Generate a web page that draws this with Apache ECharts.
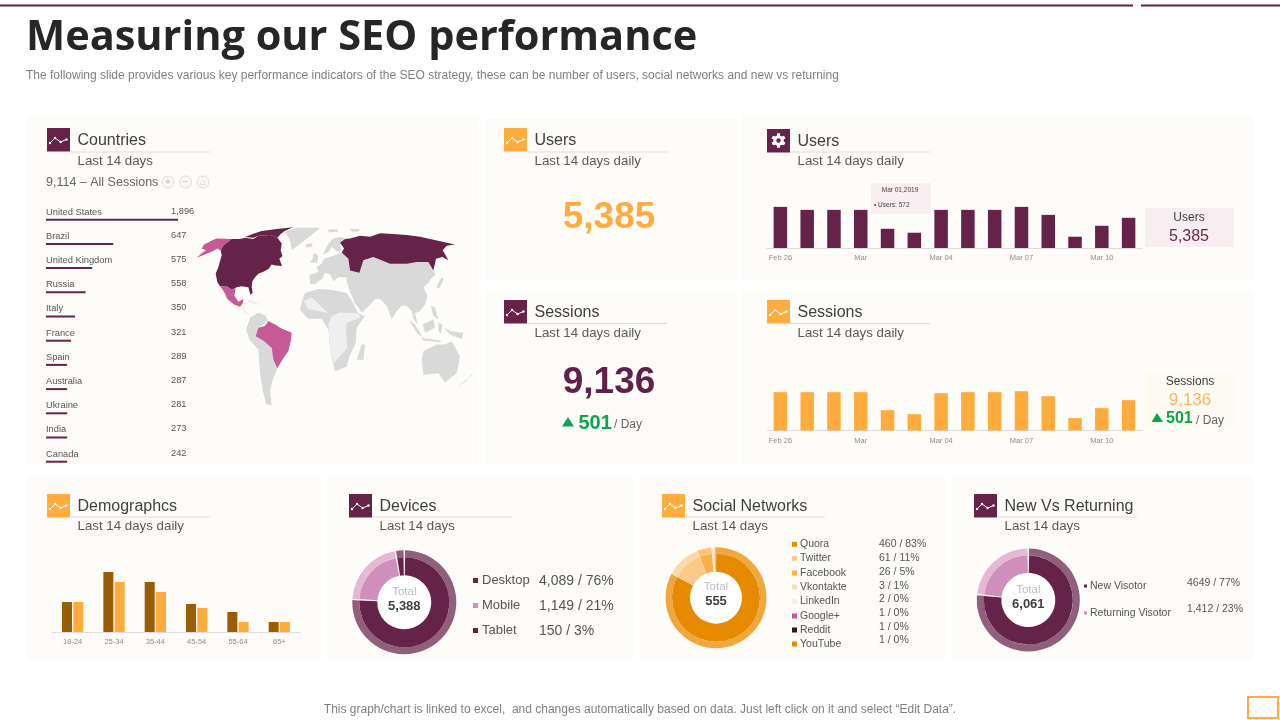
<!DOCTYPE html>
<html>
<head>
<meta charset="utf-8">
<title>Measuring our SEO performance</title>
<script src="https://cdn.jsdelivr.net/npm/echarts@6/dist/echarts.min.js"></script>
<style>
  html, body { margin: 0; padding: 0; background: #fff; }
  #chart { width: 1280px; height: 720px; }
</style>
</head>
<body>
<div id="chart"></div>
<script>
// countries panel
const countryNames = ["United States", "Brazil", "United Kingdom", "Russia", "Italy", "France", "Spain", "Australia", "Ukraine", "India", "Canada"];
const countryLabels = ["1,896", "647", "575", "558", "350", "321", "289", "287", "281", "273", "242"];
// bar lengths as drawn in the slide, % of the longest one
const countryBars = [100, 51, 35, 30, 22, 19, 16, 16, 16, 16, 16];

// 14 day bars
const dayLabels = ["Feb 26", "Feb 27", "Feb 28", "Mar", "Mar 02", "Mar 03", "Mar 04", "Mar 05", "Mar 06", "Mar 07", "Mar 08", "Mar 09", "Mar 10", "Mar 11"];
const usersDaily = [617, 572, 572, 572, 288, 229, 572, 572, 572, 617, 497, 169, 333, 453];
const sessionsDaily = [782, 782, 782, 782, 415, 333, 762, 782, 782, 802, 700, 252, 456, 619];

// demographics
const ageGroups = ["18-24", "25-34", "35-44", "45-54", "55-64", "65+"];
const ageDark = [15, 30, 25, 14, 10, 5];
const ageLight = [15, 25, 20, 12, 5, 5];

// donuts
const deviceNames = ["Desktop", "Mobile", "Tablet"];
const deviceValues = [4089, 1149, 150];
const deviceLabels = ["4,089 / 76%", "1,149 / 21%", "150 / 3%"];
const socialNames = ["Quora", "Twitter", "Facebook", "Vkontakte", "LinkedIn", "Google+", "Reddit", "YouTube"];
const socialValues = [460, 61, 26, 3, 2, 1, 1, 1];
const socialLabels = ["460 / 83%", "61 / 11%", "26 / 5%", "3 / 1%", "2 / 0%", "1 / 0%", "1 / 0%", "1 / 0%"];
const visitorNames = ["New Visotor", "Returning Visotor"];
const visitorValues = [4649, 1412];
const visitorLabels = ["4649 / 77%", "1,412 / 23%"];

// colours
const PURPLE = "#66234A";
const PURPLE_OUT = "#8F5F7B";
const PINK = "#D08FBB";
const PINK_OUT = "#E3B9D4";
const MAP_PINK = "#C65A96";
const MAP_GREY = "#D9D9D9";
const MAP_PALE = "#EDEFF1";
const ORANGE = "#FDAC3D";
const BROWN = "#9A5D04";
const PANEL = "#FEFCF9";
const GREEN = "#0DA54C";
const deviceInner = [PURPLE, PINK, PURPLE];
const deviceOuter = [PURPLE_OUT, PINK_OUT, PURPLE_OUT];
const socialInner = ["#E68A00", "#FBC98A", "#FDB04A", "#FBDCAE", "#F7EFE0", "#C0589A", "#33122B", "#E68A00"];
const socialOuter = ["#EFA83F", "#FDD9A9", "#FDC273", "#FCE6C6", "#F9F3E8", "#D186B5", "#6A4A62", "#EFA83F"];
const FONT = '"Liberation Sans", Arial, sans-serif';

// rough world outline, x / y in map units, y pointing down
const mapShapes = [
  { name: "Alaska", color: MAP_PINK, rings: [[[20,127],[38,112],[48,105],[35,100],[42,88],[62,78],[80,70],[125,72],[108,86],[100,92],[92,106],[82,100],[68,108],[48,116]]] },
  { name: "United States", color: PURPLE, rings: [
    [[125,72],[150,72],[165,68],[190,72],[205,62],[240,60],[262,68],[275,85],[272,105],[277,122],[268,130],[276,152],[256,150],[245,147],[236,160],[222,168],[205,175],[195,185],[187,197],[185,215],[188,232],[181,237],[175,215],[155,212],[140,215],[125,222],[112,213],[90,212],[82,200],[77,175],[85,155],[95,120],[92,106],[100,92]],
    [[195,105],[215,95],[225,100],[232,115],[230,130],[218,135],[205,125]]
  ] },
  { name: "Arctic", color: PURPLE, rings: [[[165,66],[190,56],[215,48],[260,42],[310,37],[285,47],[272,57],[262,68],[240,60],[205,62],[190,68]]] },
  { name: "Mexico", color: MAP_PINK, rings: [[[90,212],[112,213],[125,222],[137,218],[133,240],[145,258],[160,250],[158,262],[150,273],[132,266],[112,250],[102,228]]] },
  { name: "Central", color: "#EDEDED", rings: [[[150,273],[165,285],[180,298],[165,292]], [[165,250],[195,258],[212,268],[185,262]]] },
  { name: "South America", color: MAP_GREY, rings: [[[168,340],[180,305],[205,290],[225,298],[235,315],[205,335],[197,360],[222,375],[245,395],[250,430],[262,455],[248,490],[240,520],[245,565],[228,562],[218,520],[210,470],[205,400],[178,370]]] },
  { name: "Brazil", color: MAP_PINK, rings: [[[197,360],[205,335],[225,330],[235,315],[255,325],[270,335],[305,350],[302,375],[295,405],[280,425],[262,455],[250,430],[245,395],[222,375]]] },
  { name: "Greenland", color: MAP_GREY, rings: [[[285,50],[320,38],[390,38],[362,62],[335,82],[305,105],[298,70]]] },
  { name: "Iceland", color: MAP_GREY, rings: [[[345,88],[365,85],[368,95],[350,97]]] },
  { name: "Britain", color: MAP_GREY, rings: [[[372,112],[385,122],[382,142],[360,142],[368,128]]] },
  { name: "Scandinavia", color: MAP_GREY, rings: [[[398,118],[415,85],[430,70],[455,65],[465,72],[450,80],[455,105],[440,108],[425,95],[415,112]]] },
  { name: "Arctic Islands", color: MAP_GREY, rings: [[[410,45],[440,42],[445,50],[420,52]], [[480,42],[510,42],[505,50],[485,50]]] },
  { name: "Eurasia", color: MAP_GREY, rings: [[[360,205],[358,178],[385,170],[380,155],[395,145],[402,130],[420,125],[455,112],[475,130],[480,165],[505,170],[520,135],[550,125],[600,145],[680,140],[715,140],[730,165],[737,178],[722,190],[715,202],[700,215],[712,240],[706,265],[690,285],[675,292],[683,325],[672,312],[665,285],[650,270],[635,270],[620,285],[605,310],[590,270],[570,250],[555,250],[532,275],[515,290],[495,262],[480,228],[470,197],[470,185],[445,185],[430,197],[420,176],[405,172],[395,190],[375,205]]] },
  { name: "Russia", color: PURPLE, rings: [[[450,82],[465,72],[480,70],[510,62],[540,65],[570,55],[610,57],[650,60],[690,65],[720,72],[795,88],[770,92],[758,105],[775,135],[757,125],[738,130],[730,165],[715,140],[680,140],[650,145],[600,145],[550,125],[520,135],[508,172],[480,165],[475,130],[455,112],[462,100]]] },
  { name: "Africa", color: MAP_GREY, rings: [[[330,282],[338,250],[345,232],[385,220],[425,222],[470,232],[485,255],[505,292],[525,300],[500,335],[497,380],[478,420],[470,450],[435,465],[420,400],[415,340],[395,308],[355,308]]] },
  { name: "Sahel", color: MAP_PALE, rings: [[[340,255],[365,245],[415,292],[385,285],[355,280]]] },
  { name: "Congo", color: MAP_PALE, rings: [[[415,325],[425,300],[450,290],[505,292],[512,305],[470,320],[468,350],[472,395],[445,425],[432,440],[420,400]]] },
  { name: "Madagascar", color: MAP_GREY, rings: [[[500,430],[515,385],[525,385],[520,430]]] },
  { name: "Japan", color: MAP_GREY, rings: [[[738,215],[755,185],[762,190],[748,218]]] },
  { name: "Philippines", color: MAP_GREY, rings: [[[722,270],[735,275],[745,312],[730,300]]] },
  { name: "Sumatra", color: MAP_GREY, rings: [[[655,310],[675,325],[700,365],[682,352]]] },
  { name: "Java", color: MAP_GREY, rings: [[[695,365],[750,372],[752,378],[700,373]]] },
  { name: "Borneo", color: MAP_GREY, rings: [[[698,325],[730,310],[735,335],[705,350]]] },
  { name: "Sulawesi", color: MAP_GREY, rings: [[[745,320],[758,325],[752,352],[745,345]]] },
  { name: "New Guinea", color: MAP_GREY, rings: [[[762,335],[785,345],[820,350],[815,368],[780,355]]] },
  { name: "Australia", color: MAP_GREY, rings: [[[695,430],[700,405],[740,385],[765,385],[785,375],[810,420],[800,470],[765,497],[745,470],[700,475]]] },
  { name: "New Zealand", color: "#E4E4E4", rings: [[[798,510],[845,478],[848,468],[828,495]]] }
];

const worldGeo = {
  type: "FeatureCollection",
  features: mapShapes.map(s => ({
    type: "Feature",
    properties: { name: s.name },
    geometry: { type: "Polygon", coordinates: s.rings.map(r => r.map(p => [p[0], -p[1]])) }
  }))
};
echarts.registerMap("world-lite", worldGeo);

// helpers for the graphic layer
function txt(x, y, text, size, color, opts) {
  opts = opts || {};
  return {
    type: "text", x: x, y: y, z: 20, silent: true,
    style: {
      text: text, fontSize: size, fill: color,
      fontFamily: opts.family || FONT, fontWeight: opts.weight || "normal",
      align: opts.align || "left", verticalAlign: "middle"
    }
  };
}
function box(x, y, w, h, fill, z) {
  return { type: "rect", z: z || 1, silent: true, shape: { x: x, y: y, width: w, height: h }, style: { fill: fill } };
}
function chartIcon(x, y) {
  const pts = [[x + 3, y + 15], [x + 8, y + 10], [x + 13.6, y + 14], [x + 19.5, y + 11.5]];
  const els = [{
    type: "polyline", z: 21, silent: true,
    shape: { points: pts },
    style: { stroke: "#fff", lineWidth: 1, fill: null }
  }];
  pts.forEach(p => els.push({ type: "circle", z: 21, silent: true, shape: { cx: p[0], cy: p[1], r: 1.2 }, style: { fill: "#fff" } }));
  return els;
}
function gearIcon(cx, cy) {
  const parts = [];
  for (let i = 0; i < 6; i++) {
    parts.push({
      type: "rect", z: 21, silent: true, x: cx, y: cy, rotation: i * Math.PI / 3,
      shape: { x: -1.5, y: -7, width: 3, height: 14 }, style: { fill: "#fff" }
    });
  }
  parts.push({ type: "circle", z: 22, silent: true, shape: { cx: cx, cy: cy, r: 5.2 }, style: { fill: "#fff" } });
  parts.push({ type: "circle", z: 23, silent: true, shape: { cx: cx, cy: cy, r: 2.2 }, style: { fill: PURPLE } });
  return parts;
}
function header(ix, iy, color, title, sub, lineY, gear) {
  const tx = ix + 30.5;
  const els = [
    box(ix, iy, 23, 23.5, color, 20),
    txt(tx, iy + 12.5, title, 16, "#404040"),
    txt(tx, lineY + 10, sub, 13.3, "#595959"),
    box(ix + 23, lineY, 140, 1, "#DDDDDD", 20)
  ];
  return els.concat(gear ? gearIcon(ix + 11.5, iy + 11.5) : chartIcon(ix, iy));
}
function centerText(cx, cy, total) {
  return [
    { type: "circle", z: 1, silent: true, shape: { cx: cx, cy: cy, r: 28 }, style: { fill: "#fff" } },
    txt(cx, cy - 10.5, "Total", 11.5, "#BDBDBD", { align: "center" }),
    txt(cx, cy + 4, total, 13, "#404040", { align: "center", weight: "bold" })
  ];
}

let g = [];
// slide furniture
g.push(box(0, 4.5, 1133, 2, "#5B2245"), box(1141, 4.5, 139, 2, "#5B2245"));
g.push(txt(26, 38.5, "Measuring our SEO performance", 41.5, "#262626", { weight: "bold", family: '"Open Sans", sans-serif' }));
g.push(txt(26, 75.5, "The following slide provides various key performance indicators of the SEO strategy, these can be number of users, social networks and new vs returning", 12, "#7F7F7F"));
g.push(txt(640, 710, "This graph/chart is linked to excel,  and changes automatically based on data. Just left click on it and select “Edit Data”.", 12, "#7F7F7F", { align: "center" }));
g.push({ type: "rect", z: 20, silent: true, shape: { x: 1248, y: 697, width: 30, height: 21 }, style: { fill: null, stroke: ORANGE, lineWidth: 2 } });

// panels
g.push(box(27, 116, 451, 349, PANEL), box(485, 118, 251, 163, PANEL), box(485, 291, 251, 174, PANEL));
g.push(box(741, 116, 512, 165, PANEL), box(741, 291, 512, 174, PANEL));
g.push(box(27, 476, 294, 184, PANEL), box(328, 476, 306, 184, PANEL), box(640, 476, 306, 184, PANEL), box(952, 476, 301, 184, PANEL));

// headers
g = g.concat(header(47, 128, PURPLE, "Countries", "Last 14 days", 151.5));
g = g.concat(header(504, 128, ORANGE, "Users", "Last 14 days daily", 151.5));
g = g.concat(header(504, 300, PURPLE, "Sessions", "Last 14 days daily", 323));
g = g.concat(header(767, 129, PURPLE, "Users", "Last 14 days daily", 151.5, true));
g = g.concat(header(767, 300, ORANGE, "Sessions", "Last 14 days daily", 323));
g = g.concat(header(47, 494, ORANGE, "Demographcs", "Last 14 days daily", 516.5));
g = g.concat(header(349, 494, PURPLE, "Devices", "Last 14 days", 516.5));
g = g.concat(header(662, 494, ORANGE, "Social Networks", "Last 14 days", 516.5));
g = g.concat(header(974, 494, PURPLE, "New Vs Returning", "Last 14 days", 516.5));

// countries list
g.push(txt(46, 183, "9,114 – All Sessions", 12.5, "#666666"));
["+", "−", "⌂"].forEach((s, i) => {
  const cx = 168 + i * 17.5;
  g.push({ type: "circle", z: 20, silent: true, shape: { cx: cx, cy: 182, r: 6 }, style: { fill: "#FAF8F5", stroke: "#DDDDDD", lineWidth: 1 } });
  g.push(txt(cx, 182, s, 10, "#CCCCCC", { align: "center", weight: "bold" }));
});
countryNames.forEach((name, i) => {
  g.push(txt(46, 212 + i * 24.2, name, 9.3, "#555555"));
  g.push(txt(171, 211 + i * 24.2, countryLabels[i], 9.3, "#555555"));
});

// big numbers
g.push(txt(609, 218, "5,385", 37, ORANGE, { align: "center", weight: "bold" }));
g.push(txt(609, 383, "9,136", 37, "#5F2149", { align: "center", weight: "bold" }));
g.push({ type: "polygon", z: 20, silent: true, shape: { points: [[562, 426.5], [574, 426.5], [568, 417]] }, style: { fill: GREEN } });
g.push(txt(578.5, 423, "501", 20, GREEN, { weight: "bold" }));
g.push(txt(614, 424.5, "/ Day", 12, "#666666"));

// users side boxes and the tooltip
g.push(box(1145, 208, 89, 39, "#F8EEF2", 3));
g.push(txt(1189, 217.5, "Users", 12, "#404040", { align: "center" }));
g.push(txt(1189, 237, "5,385", 16, "#6B2C4B", { align: "center" }));
g.push(box(871, 183, 60, 31, "#F9EEF1", 10));
g.push(txt(900, 190, "Mar 01,2019", 6.5, "#444444", { align: "center" }));
g.push(txt(874, 205, "• Users: 572", 6.5, "#444444"));

g.push(box(1146, 372, 88, 56, "#FDFAF1", 3));
g.push(txt(1190, 381.5, "Sessions", 12, "#404040", { align: "center" }));
g.push(txt(1190, 400, "9,136", 17, "#FBB660", { align: "center" }));
g.push({ type: "polygon", z: 20, silent: true, shape: { points: [[1151.5, 422], [1163, 422], [1157, 413]] }, style: { fill: GREEN } });
g.push(txt(1166, 419, "501", 16, GREEN, { weight: "bold" }));
g.push(txt(1196, 420.5, "/ Day", 12, "#666666"));

// donut centres
g = g.concat(centerText(404.3, 602.3, "5,388"));
g = g.concat(centerText(716, 597.7, "555"));
g = g.concat(centerText(1028.3, 600, "6,061"));

// donut legends
deviceNames.forEach((name, i) => {
  const y = 580.5 + i * 25;
  g.push(box(473, y - 2.5, 5, 5, deviceInner[i], 20));
  g.push(txt(482, y, name, 13, "#555555"));
  g.push(txt(539, y + 0.5, deviceLabels[i], 14, "#555555"));
});
const socialRowY = [544.3, 558.3, 573, 587, 601.3, 616, 630, 644];
const socialValueY = [544, 558, 572, 585.7, 599, 613, 627, 640];
socialNames.forEach((name, i) => {
  g.push(box(792, socialRowY[i] - 2.5, 5, 5, socialInner[i], 20));
  g.push(txt(800, socialRowY[i], name, 10.5, "#555555"));
  g.push(txt(879, socialValueY[i], socialLabels[i], 10.5, "#555555"));
});
const visitorRowY = [586, 613];
const visitorValueY = [583, 609];
visitorNames.forEach((name, i) => {
  g.push(box(1084, visitorRowY[i] - 1.5, 3, 3, i ? PINK : PURPLE, 20));
  g.push(txt(1090, visitorRowY[i], name, 10.5, "#555555"));
  g.push(txt(1187, visitorValueY[i], visitorLabels[i], 10.5, "#555555"));
});

function categoryAxis(gridIndex, data, interval, size) {
  return {
    type: "category", gridIndex: gridIndex, data: data, z: 5,
    axisTick: { show: false },
    axisLine: { lineStyle: { color: "#DDDDDD", width: 1 } },
    axisLabel: { interval: interval, color: "#8C8C8C", fontSize: size, fontFamily: FONT, margin: 6 }
  };
}
function hiddenValueAxis(gridIndex, max) {
  return { type: "value", gridIndex: gridIndex, min: 0, max: max, show: false, splitLine: { show: false } };
}
function barSeries(axisIndex, data, color, width) {
  return {
    type: "bar", xAxisIndex: axisIndex, yAxisIndex: axisIndex, data: data,
    barWidth: width, barGap: "13%", silent: true, z: 5,
    itemStyle: { color: color }
  };
}
function donut(center, inner, outer, holeR, midR, outR, values, names, pad) {
  const mk = (colors) => values.map((v, i) => ({ value: v, name: names[i], itemStyle: { color: colors[i] } }));
  const base = {
    type: "pie", center: center, silent: true, startAngle: 90, clockwise: true,
    label: { show: false }, labelLine: { show: false }
  };
  return [
    Object.assign({}, base, { radius: [midR, outR], padAngle: pad * 0.8, data: mk(outer) }),
    Object.assign({}, base, { radius: [holeR, midR], padAngle: pad, data: mk(inner) })
  ];
}

const option = {
  animation: false,
  backgroundColor: "#fff",
  textStyle: { fontFamily: FONT },
  graphic: { elements: g },
  geo: {
    map: "world-lite", silent: true, roam: false, aspectScale: 1,
    left: 196.7, top: 227.3, width: 276, height: 178,
    label: { show: false },
    itemStyle: { areaColor: MAP_GREY, borderWidth: 0 },
    regions: mapShapes.map(s => ({ name: s.name, itemStyle: { areaColor: s.color, borderWidth: 0 } })),
    z: 3
  },
  grid: [
    { left: 46, top: 207.6, width: 132, height: 266.2 },
    { left: 767, top: 198, width: 375, height: 50 },
    { left: 767, top: 380.5, width: 375, height: 50 },
    { left: 52, top: 562, width: 248, height: 70 }
  ],
  xAxis: [
    { type: "value", gridIndex: 0, min: 0, max: 100, show: false, splitLine: { show: false } },
    categoryAxis(1, dayLabels, 2, 7.5),
    categoryAxis(2, dayLabels, 2, 7.5),
    categoryAxis(3, ageGroups, 0, 7.5)
  ],
  yAxis: [
    { type: "category", gridIndex: 0, inverse: true, data: countryNames, show: false },
    hiddenValueAxis(1, 750),
    hiddenValueAxis(2, 1020),
    hiddenValueAxis(3, 35)
  ],
  series: [
    barSeries(0, countryBars, PURPLE, 2),
    barSeries(1, usersDaily, PURPLE, 13.5),
    barSeries(2, sessionsDaily, ORANGE, 13.5),
    barSeries(3, ageDark, BROWN, 10),
    barSeries(3, ageLight, ORANGE, 10)
  ].concat(
    donut([404.3, 602.3], deviceInner, deviceOuter, 27, 45, 52, deviceValues, deviceNames, 2),
    donut([716, 597.7], socialInner, socialOuter, 26, 44, 50.5, socialValues, socialNames, 0.4),
    donut([1028.3, 600], [PURPLE, PINK], [PURPLE_OUT, PINK_OUT], 27, 44.5, 51.5, visitorValues, visitorNames, 2)
  )
};

const myChart = echarts.init(document.getElementById("chart"));
myChart.setOption(option);
</script>
</body>
</html>
